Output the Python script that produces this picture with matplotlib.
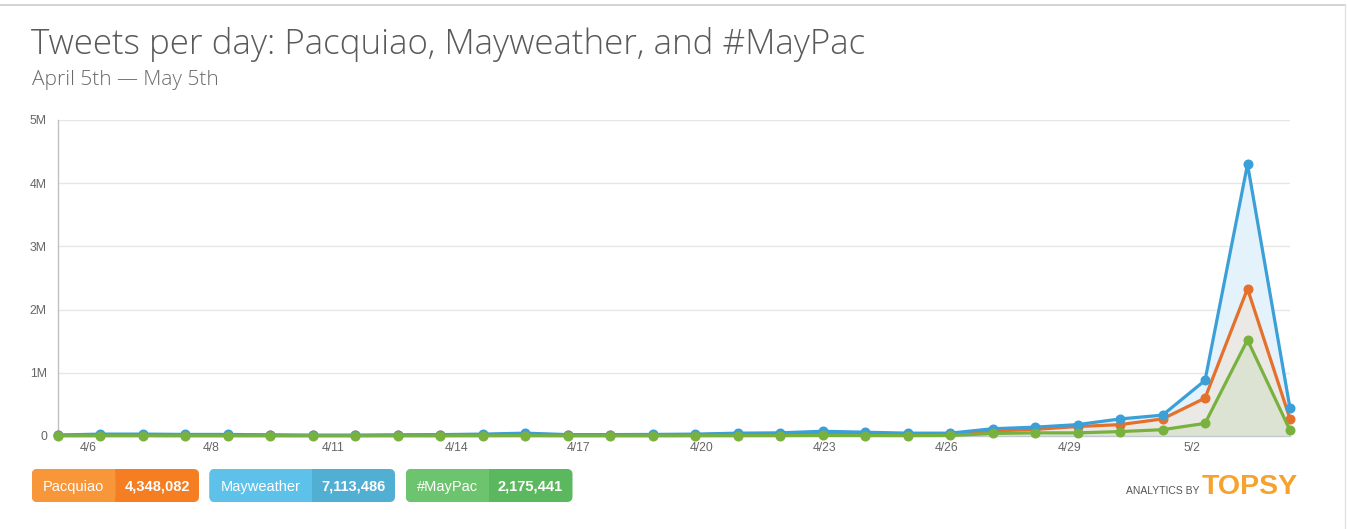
import matplotlib
matplotlib.use("Agg")
import matplotlib.pyplot as plt
from matplotlib.patches import FancyBboxPatch, Rectangle
from matplotlib.lines import Line2D
from matplotlib.ticker import FuncFormatter

# ---------------- data ----------------
days = ["4/5", "4/6", "4/7", "4/8", "4/9", "4/10", "4/11", "4/12", "4/13", "4/14",
        "4/15", "4/16", "4/17", "4/18", "4/19", "4/20", "4/21", "4/22", "4/23", "4/24",
        "4/25", "4/26", "4/27", "4/28", "4/29", "4/30", "5/1", "5/2", "5/3", "5/4"]
mayweather = [15e3, 30e3, 30e3, 25e3, 25e3, 18e3, 12e3, 12e3, 18e3, 22e3,
              30e3, 45e3, 22e3, 22e3, 25e3, 30e3, 45e3, 50e3, 75e3, 60e3,
              45e3, 45e3, 115e3, 140e3, 180e3, 270e3, 330e3, 880e3, 4300e3, 440e3]
pacquiao = [10e3, 20e3, 20e3, 18e3, 18e3, 12e3, 10e3, 10e3, 12e3, 15e3,
            20e3, 28e3, 15e3, 15e3, 18e3, 20e3, 30e3, 32e3, 45e3, 38e3,
            30e3, 30e3, 80e3, 105e3, 150e3, 180e3, 270e3, 600e3, 2330e3, 270e3]
maypac = [3e3, 4e3, 4e3, 3e3, 3e3, 3e3, 2e3, 2e3, 3e3, 3e3,
          4e3, 5e3, 3e3, 3e3, 3e3, 4e3, 5e3, 6e3, 8e3, 7e3,
          6e3, 8e3, 40e3, 50e3, 50e3, 70e3, 100e3, 200e3, 1520e3, 90e3]
tick_labels = ["4/6", "4/8", "4/11", "4/14", "4/17", "4/20", "4/23", "4/26", "4/29", "5/2"]
legend_names = ["Pacquiao", "Mayweather", "#MayPac"]
legend_totals = ["4,348,082", "7,113,486", "2,175,441"]

# ---------------- styling ----------------
W, H = 1347, 529
fig = plt.figure(figsize=(W / 100, H / 100), dpi=100)
fig.patch.set_facecolor("white")

def fx(px):
    return px / W

def fy(py):
    return 1 - py / H

ax_l, ax_r, ax_t, ax_b = 58, 1290, 120, 436
ax = fig.add_axes([fx(ax_l), fy(ax_b), fx(ax_r - ax_l), (ax_b - ax_t) / H])

x = list(range(len(days)))
c_blue, c_orange, c_green = "#3b9fd8", "#e5702b", "#79b13f"
f_blue, f_orange, f_green = "#e4f2fb", "#ebe9e6", "#dde3d3"

ax.fill_between(x, mayweather, 0, color=f_blue, lw=0, zorder=1)
ax.fill_between(x, pacquiao, 0, color=f_orange, lw=0, zorder=1.1)
ax.fill_between(x, maypac, 0, color=f_green, lw=0, zorder=1.2)

for vals, col, z in [(pacquiao, c_orange, 3), (mayweather, c_blue, 4), (maypac, c_green, 5)]:
    ax.plot(x, vals, color=col, lw=2.3, marker="o", ms=6.2, mec=col, mfc=col,
            zorder=z, clip_on=False, solid_joinstyle="round")

ax.set_xlim(0, len(days) - 1)
ax.set_ylim(0, 5e6)
ax.set_yticks([0, 1e6, 2e6, 3e6, 4e6, 5e6])
ax.yaxis.set_major_formatter(FuncFormatter(lambda v, p: "0" if v == 0 else f"{int(v / 1e6)}M"))
tick_pos = [0.71 + 2.888 * k for k in range(len(tick_labels))]
ax.set_xticks(tick_pos)
ax.set_xticklabels(tick_labels)

for s in ["top", "right"]:
    ax.spines[s].set_visible(False)
ax.spines["left"].set_color("#c0c0c0")
ax.spines["left"].set_linewidth(1)
ax.spines["bottom"].set_color("#c0c8d0")
ax.spines["bottom"].set_linewidth(1)
ax.grid(axis="y", color="#e6e6e6", lw=1)
ax.set_axisbelow(True)
ax.tick_params(axis="both", length=0, colors="#666666", labelsize=8.8)
ax.tick_params(axis="x", pad=4)
ax.tick_params(axis="y", pad=8)
for lab in ax.get_xticklabels() + ax.get_yticklabels():
    lab.set_fontfamily("Liberation Sans")
    lab.set_color("#666666")

# title & subtitle
fig.text(fx(31), fy(54), "Tweets per day: Pacquiao, Mayweather, and #MayPac",
         fontsize=25.2, color="#5a5a5a", family="Open Sans", weight="light", va="baseline")
fig.text(fx(32), fy(85), "April 5th \u2014 May 5th",
         fontsize=15, color="#6a6a6a", family="Open Sans", weight="light", va="baseline")

# frame lines
fig.add_artist(Line2D([0, fx(1345)], [fy(4.5), fy(4.5)], color="#cccccc", lw=1.2))
fig.add_artist(Line2D([fx(1344.5), fx(1344.5)], [fy(4.5), 0], color="#e2e2e2", lw=1))

# legend badges
badges = [
    (32, 115.5, 199, "#f8963a", "#f57d22"),
    (209.5, 311.5, 395, "#5ec1ea", "#51afd3"),
    (406, 488.5, 572.5, "#6dc46e", "#5cb85f"),
]
by0, by1 = 469, 502
for (x0, xs, x1, cl, cr), name, tot in zip(badges, legend_names, legend_totals):
    fig.add_artist(FancyBboxPatch((fx(x0), fy(by1)), fx(x1 - x0), (by1 - by0) / H,
                                  boxstyle="round,pad=0,rounding_size=0.004",
                                  fc=cr, ec="none", transform=fig.transFigure,
                                  mutation_aspect=W / H))
    fig.add_artist(FancyBboxPatch((fx(x0), fy(by1)), fx(xs - x0), (by1 - by0) / H,
                                  boxstyle="round,pad=0,rounding_size=0.004",
                                  fc=cl, ec="none", transform=fig.transFigure,
                                  mutation_aspect=W / H))
    fig.add_artist(Rectangle((fx(xs - 5), fy(by1)), fx(5), (by1 - by0) / H,
                             fc=cl, ec="none", transform=fig.transFigure))
    fig.text(fx((x0 + xs) / 2), fy((by0 + by1) / 2 + 1), name, color="white", fontsize=10.5,
             family="Liberation Sans", ha="center", va="center")
    fig.text(fx((xs + x1) / 2), fy((by0 + by1) / 2 + 1), tot, color="white", fontsize=10.5,
             family="Liberation Sans", weight="bold", ha="center", va="center")

# analytics by topsy
fig.text(fx(1200), fy(491), "ANALYTICS BY", fontsize=7.5, color="#555555",
         family="Liberation Sans", ha="right", va="center")
fig.text(fx(1202), fy(494.5), "TOPSY", fontsize=20.5, color="#f5a22e",
         family="Liberation Sans", weight="bold", ha="left", va="baseline")

fig.savefig("out.png", dpi=100, facecolor="white")
